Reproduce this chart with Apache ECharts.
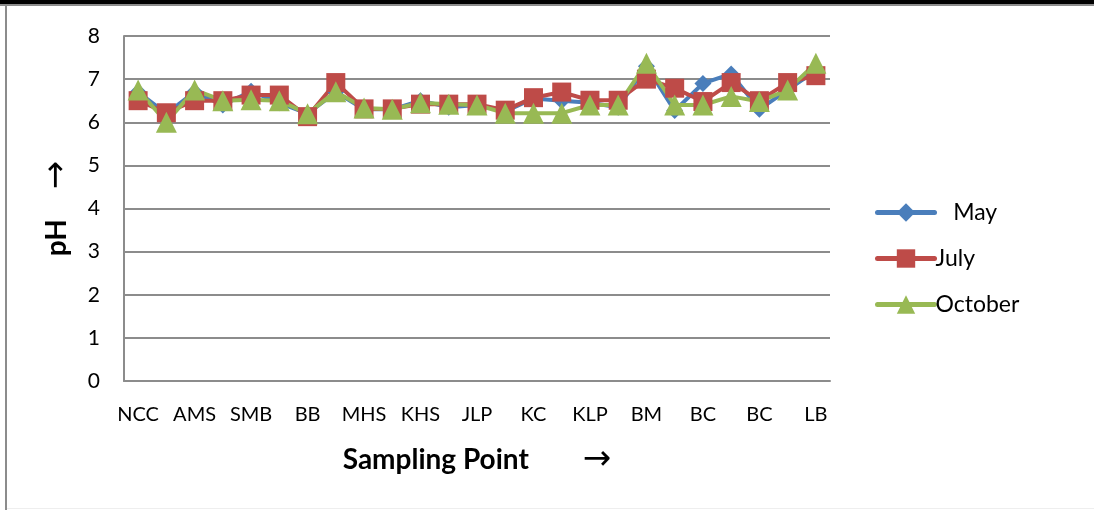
<!DOCTYPE html>
<html>
<head>
<meta charset="utf-8">
<script src="https://cdn.jsdelivr.net/npm/echarts@6/dist/echarts.min.js"></script>
<style>
  html, body { margin: 0; padding: 0; background: #ffffff; }
  #chart { width: 1094px; height: 510px; }
</style>
</head>
<body>
<div id="chart"></div>
<script>
// Sampling points along the x axis (every other point carries a name)
const samplingPoints = ['NCC', '', 'AMS', '', 'SMB', '', 'BB', '', 'MHS', '', 'KHS', '', 'JLP', '',
  'KC', '', 'KLP', '', 'BM', '', 'BC', '', 'BC', '', 'LB'];

// pH readings per month
const phMay = [6.7, 6.2, 6.7, 6.4, 6.72, 6.45, 6.2, 6.7, 6.3, 6.3, 6.5, 6.35, 6.4, 6.25,
  6.55, 6.5, 6.45, 6.35, 7.3, 6.27, 6.9, 7.12, 6.3, 6.75, 7.2];
const phJuly = [6.5, 6.22, 6.5, 6.5, 6.63, 6.63, 6.13, 6.92, 6.31, 6.31, 6.42, 6.42, 6.42, 6.28,
  6.57, 6.7, 6.51, 6.51, 7.0, 6.79, 6.48, 6.92, 6.5, 6.92, 7.08];
const phOctober = [6.75, 6.0, 6.75, 6.5, 6.52, 6.5, 6.2, 6.71, 6.33, 6.3, 6.45, 6.42, 6.4, 6.21,
  6.21, 6.21, 6.4, 6.4, 7.37, 6.4, 6.4, 6.6, 6.48, 6.75, 7.37];

// y-axis ticks
const yTicks = [0, 1, 2, 3, 4, 5, 6, 7, 8];

const FONT = 'Lato, "Open Sans", sans-serif';

const chart = echarts.init(document.getElementById('chart'), null, { renderer: 'canvas' });

function lineSeries(name, data, color, symbol, size) {
  return {
    name: name,
    type: 'line',
    data: data,
    symbol: symbol,
    symbolSize: size,
    showAllSymbol: true,
    lineStyle: { color: color, width: 4, cap: 'round', join: 'round' },
    itemStyle: { color: color, borderWidth: 0 },
    emphasis: { disabled: true },
    animation: false
  };
}

chart.setOption({
  backgroundColor: '#ffffff',
  animation: false,
  textStyle: { fontFamily: FONT },
  grid: { left: 124, right: 264, top: 36, bottom: 129, containLabel: false },
  legend: {
    orient: 'vertical',
    left: 870,
    top: 196,
    itemWidth: 57,
    itemHeight: 23,
    itemGap: 23,
    lineStyle: { width: 5, cap: 'round' },
    textStyle: { fontFamily: FONT, fontSize: 23, color: '#000', padding: [0, 0, 0, -4] },
    formatter: function (n) { return n === 'May' ? '   May' : n; },
    data: ['May', 'July', 'October']
  },
  xAxis: {
    type: 'category',
    data: samplingPoints,
    boundaryGap: true,
    axisLine: { lineStyle: { color: '#8c8c8c', width: 2 } },
    axisTick: { show: false },
    axisLabel: { interval: 0, color: '#000', fontSize: 20, fontFamily: FONT, margin: 24 },
    name: '{b|Sampling Point}{a|→}',
    nameLocation: 'middle',
    nameGap: 62,
    nameTextStyle: {
      rich: {
        b: { fontFamily: FONT, fontSize: 28, fontWeight: 'bold', color: '#000' },
        a: { fontFamily: 'DejaVu Sans', fontSize: 34, color: '#000', padding: [0, 0, 0, 54] }
      }
    }
  },
  yAxis: {
    type: 'value',
    min: yTicks[0],
    max: yTicks[yTicks.length - 1],
    interval: 1,
    axisLine: { show: true, lineStyle: { color: '#8c8c8c', width: 2 } },
    axisTick: { show: false },
    splitLine: { lineStyle: { color: '#8c8c8c', width: 2 } },
    axisLabel: { color: '#000', fontSize: 21, fontFamily: FONT, margin: 24 },
    name: '{b|pH}{a|→}',
    nameLocation: 'middle',
    nameRotate: 90,
    nameGap: 50,
    nameTextStyle: {
      rich: {
        b: { fontFamily: FONT, fontSize: 28, fontWeight: 'bold', color: '#000' },
        a: { fontFamily: 'DejaVu Sans', fontSize: 34, color: '#000', padding: [0, 0, 0, 30] }
      }
    }
  },
  series: [
    lineSeries('May', phMay, '#4a7ebb', 'diamond', 17),
    lineSeries('July', phJuly, '#be4b48', 'rect', 19),
    lineSeries('October', phOctober, '#98b954', 'triangle', 21)
  ],
  graphic: [
    { type: 'rect', left: 0, top: 0, shape: { width: 1094, height: 4 }, style: { fill: '#000' }, silent: true },
    { type: 'rect', left: 0, top: 4, shape: { width: 1094, height: 2 }, style: { fill: '#8c8c8c' }, silent: true },
    { type: 'rect', left: 5, top: 6, shape: { width: 2, height: 504 }, style: { fill: '#8c8c8c' }, silent: true },
    { type: 'rect', left: 7, top: 508, shape: { width: 1087, height: 1 }, style: { fill: '#eeeeee' }, silent: true }
  ]
});
</script>
</body>
</html>
